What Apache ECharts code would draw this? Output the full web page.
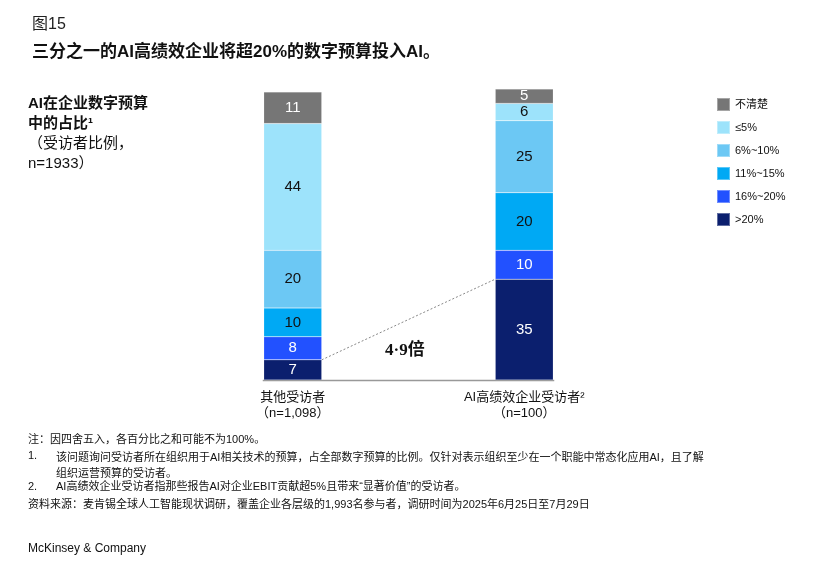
<!DOCTYPE html>
<html>
<head>
<meta charset="utf-8">
<script src="https://cdn.jsdelivr.net/npm/echarts@6/dist/echarts.min.js"></script>
<style>
html,body{margin:0;padding:0;background:#fff;}
#main{width:817px;height:585px;}
</style>
</head>
<body>
<div id="main"></div>
<script>
// 数据
var categories = ['其他受访者\n（n=1,098）', 'AI高绩效企业受访者²\n（n=100）'];
var seriesNames = ['>20%', '16%~20%', '11%~15%', '6%~10%', '≤5%', '不清楚'];
var gt20 = [7, 35];
var p16to20 = [8, 10];
var p11to15 = [10, 20];
var p6to10 = [20, 25];
var le5 = [44, 6];
var unknown = [11, 5];
var multipleText = '4·9倍';

var colors = ['#0B1F6E', '#2251FF', '#00A9F4', '#6CC8F4', '#9DE3FB', '#767676'];
var labelColors = ['#fff', '#fff', '#111', '#111', '#111', '#fff'];
var values = [gt20, p16to20, p11to15, p6to10, le5, unknown];

var cjk = '"Liberation Sans", Arial, "Noto Sans CJK SC", sans-serif';

var myChart = echarts.init(document.getElementById('main'));

var series = [];
for (var i = 0; i < seriesNames.length; i++) {
	series.push({
		name: seriesNames[i],
		type: 'bar',
		stack: 'total',
		barWidth: 58,
		data: values[i],
		itemStyle: {color: colors[i], borderColor: 'rgba(255,255,255,0.35)', borderWidth: 0.5},
		label: {
			show: true,
			position: 'inside',
			color: labelColors[i],
			fontSize: 15,
			fontFamily: cjk
		}
	});
}

var option = {
	backgroundColor: '#fff',
	animation: false,
	title: [
		{text: '图15', left: 27, top: 12, textStyle: {fontSize: 16, fontWeight: 'normal', color: '#222', fontFamily: cjk}},
		{text: '三分之一的AI高绩效企业将超20%的数字预算投入AI。', left: 27, top: 39,
			textStyle: {fontSize: 17, fontWeight: 'bold', color: '#111', fontFamily: cjk}}
	],
	legend: {
		orient: 'vertical',
		left: 711,
		top: 92,
		itemWidth: 13,
		itemHeight: 13,
		itemGap: 8,
		icon: 'rect',
		data: ['不清楚', '≤5%', '6%~10%', '11%~15%', '16%~20%', '>20%'],
		textStyle: {fontSize: 11, color: '#111', fontFamily: cjk}
	},
	grid: {left: 177, width: 463, top: 89, bottom: 205},
	xAxis: {
		type: 'category',
		data: categories,
		axisLine: {show: false},
		axisTick: {show: false},
		axisLabel: {fontSize: 13, color: '#111', lineHeight: 16, margin: 9, fontFamily: cjk}
	},
	yAxis: {type: 'value', min: 0, max: 101, show: false},
	series: series
};

myChart.setOption(option);

// 基线和虚线标注，用坐标转换得到位置
var halfW = 29;
var p0 = myChart.convertToPixel({gridIndex: 0}, [0, 0]);
var p1 = myChart.convertToPixel({gridIndex: 0}, [1, 0]);
var a = myChart.convertToPixel({gridIndex: 0}, [0, gt20[0]]);
var b = myChart.convertToPixel({gridIndex: 0}, [1, gt20[1]]);

var footStyle = {fontSize: 11, fill: '#111', fontFamily: cjk};

myChart.setOption({
	graphic: [
		{type: 'line', shape: {x1: p0[0] - halfW - 1, y1: p0[1] + 0.5, x2: p1[0] + halfW + 1, y2: p1[1] + 0.5},
			style: {stroke: '#999', lineWidth: 1.5}},
		{type: 'line', shape: {x1: a[0] + halfW, y1: a[1], x2: b[0] - halfW, y2: b[1]},
			style: {stroke: '#888', lineWidth: 1, lineDash: [2, 2]}},
		{type: 'text', x: 385, y: 342, style: {text: multipleText, fontSize: 17, fontWeight: 'bold', fill: '#111',
			fontFamily: '"Liberation Serif", "Noto Sans CJK SC", serif'}},
		{type: 'text', x: 28, y: 94, style: {text: 'AI在企业数字预算\n中的占比¹', fontSize: 15, fontWeight: 'bold', lineHeight: 20, fill: '#111', fontFamily: cjk}},
		{type: 'text', x: 28, y: 134, style: {text: '（受访者比例，\nn=1933）', fontSize: 15, lineHeight: 20, fill: '#111', fontFamily: cjk}},
		{type: 'text', x: 28, y: 434, style: Object.assign({text: '注：因四舍五入，各百分比之和可能不为100%。'}, footStyle)},
		{type: 'text', x: 28, y: 450, style: Object.assign({text: '1.'}, footStyle)},
		{type: 'text', x: 56, y: 450, style: Object.assign({text: '该问题询问受访者所在组织用于AI相关技术的预算，占全部数字预算的比例。仅针对表示组织至少在一个职能中常态化应用AI，且了解\n组织运营预算的受访者。', lineHeight: 16}, footStyle)},
		{type: 'text', x: 28, y: 481, style: Object.assign({text: '2.'}, footStyle)},
		{type: 'text', x: 56, y: 481, style: Object.assign({text: 'AI高绩效企业受访者指那些报告AI对企业EBIT贡献超5%且带来“显著价值”的受访者。'}, footStyle)},
		{type: 'text', x: 28, y: 499, style: Object.assign({text: '资料来源：麦肯锡全球人工智能现状调研，覆盖企业各层级的1,993名参与者，调研时间为2025年6月25日至7月29日'}, footStyle)},
		{type: 'text', x: 28, y: 543, style: {text: 'McKinsey & Company', fontSize: 12, fill: '#111', fontFamily: cjk}}
	]
});
</script>
</body>
</html>
